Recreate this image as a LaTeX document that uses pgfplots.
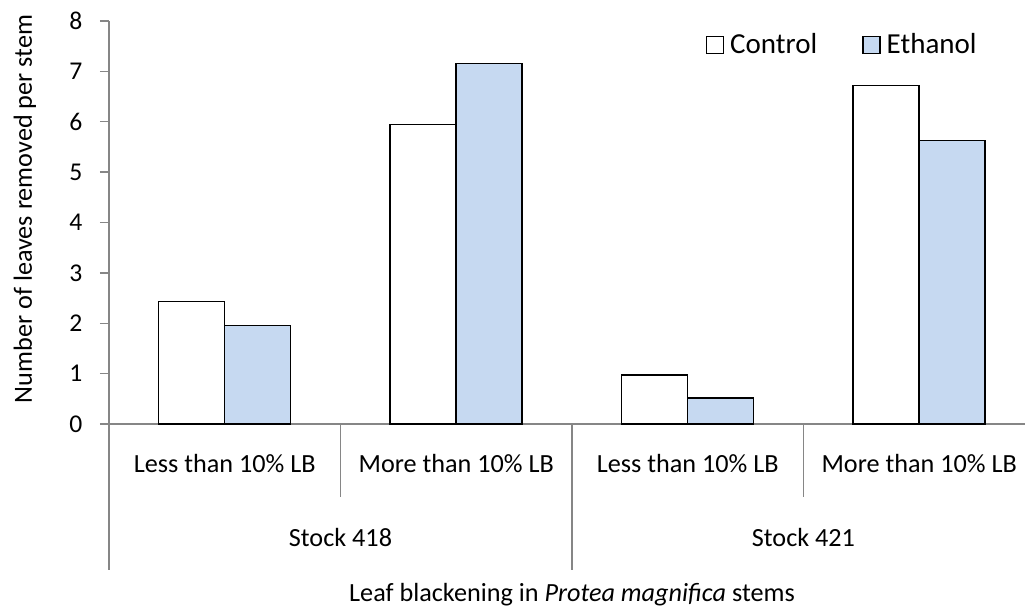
\documentclass[border=0pt]{standalone}
\usepackage{pgfplots}
\pgfplotsset{compat=1.18}
\usepackage{fontspec}
\setmainfont{Carlito}
\definecolor{ethblue}{RGB}{198,217,241}
\definecolor{axgray}{RGB}{134,134,134}
\begin{document}
\fontsize{13.1}{15.7}\selectfont
\begin{tikzpicture}
\begin{axis}[
  scale only axis, width=458pt, height=201.5pt,
  at={(0,0)}, anchor=south west,
  xmin=-0.5, xmax=3.457, ymin=0, ymax=8,
  ybar=0pt, bar width=33pt,
  clip=false,
  axis x line=bottom, axis y line=left,
  axis line style={draw=axgray, line width=0.7pt, -},
  ytick={0,1,2,3,4,5,6,7,8},
  y tick style={draw=axgray, line width=0.7pt},
  tick align=outside, major tick length=4.5pt,
  xtick=\empty,
  /pgf/number format/assume math mode=true,
  yticklabel style={font=\fontsize{12.8}{15}\selectfont, xshift=-4.3pt},
  ylabel={Number of leaves removed per stem},
  ylabel style={at={(axis description cs:-0.0917,0.5335)}, anchor=center},
  every axis plot post/.append style={
    legend image code/.code={\draw[##1, line width=0.75pt] (0pt,-4.25pt) rectangle (8.5pt,4.25pt);}},
  legend style={at={(axis description cs:0.651,0.940)}, anchor=west, draw=none, fill=none,
    font=\fontsize{14.5}{17}\selectfont, inner sep=0pt,
    nodes={inner xsep=3pt, inner ysep=0pt},
    /tikz/every even column/.append style={column sep=19.5pt}},
  legend columns=2,
]
\addplot[draw=black, fill=white, line width=0.75pt] coordinates {(0,2.43) (1,5.95) (2,0.97) (3,6.72)};
\addplot[draw=black, fill=ethblue, line width=0.75pt] coordinates {(0,1.96) (1,7.16) (2,0.52) (3,5.63)};
\legend{Control, Ethanol}
\draw[axgray, line width=0.7pt] (axis cs:0.5,0) -- ([yshift=-36.5pt]axis cs:0.5,0);
\draw[axgray, line width=0.7pt] (axis cs:2.5,0) -- ([yshift=-36.5pt]axis cs:2.5,0);
\draw[axgray, line width=0.7pt] (axis cs:-0.5,0) -- ([yshift=-73pt]axis cs:-0.5,0);
\draw[axgray, line width=0.7pt] (axis cs:1.5,0) -- ([yshift=-73pt]axis cs:1.5,0);
\node[anchor=base] at ([yshift=-24.4pt]axis cs:0,0) {Less than 10\% LB};
\node[anchor=base] at ([yshift=-24.4pt]axis cs:1,0) {More than 10\% LB};
\node[anchor=base] at ([yshift=-24.4pt]axis cs:2,0) {Less than 10\% LB};
\node[anchor=base] at ([yshift=-24.4pt]axis cs:3,0) {More than 10\% LB};
\node[anchor=base] at ([yshift=-61.4pt]axis cs:0.5,0) {Stock 418};
\node[anchor=base] at ([yshift=-61.4pt]axis cs:2.5,0) {Stock 421};
\node[anchor=base] at ([yshift=-88.9pt]axis cs:1.5,0) {Leaf blackening in \textit{Protea magnifica} stems};
\end{axis}
\pgfresetboundingbox
\useasboundingbox (-54.5pt,-92pt) rectangle (458pt,212pt);
\end{tikzpicture}
\end{document}
